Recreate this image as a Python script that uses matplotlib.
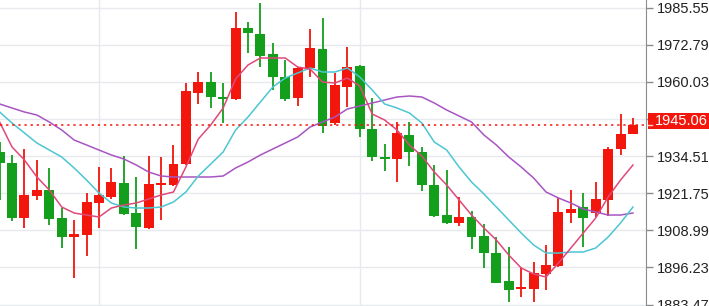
import matplotlib
matplotlib.use('Agg')
import matplotlib.pyplot as plt
import matplotlib.transforms as mtransforms
from matplotlib.patches import Rectangle
import numpy as np

# OHLC (rouge = hausse, vert = baisse)
opens = [1935.89, 1932.11, 1913.20, 1920.76, 1922.83, 1913.20, 1906.67, 1907.36, 1918.35, 1920.42,
         1925.23, 1914.92, 1909.77, 1924.55, 1924.55, 1931.76, 1956.17, 1959.95, 1954.79, 1954.10,
         1978.51, 1976.44, 1969.57, 1961.66, 1954.45, 1964.76, 1971.29, 1945.86, 1958.23, 1965.45,
         1943.80, 1934.17, 1933.48, 1941.73, 1935.89, 1924.55, 1914.23, 1911.48, 1913.55, 1907.02,
         1901.18, 1891.55, 1888.80, 1888.80, 1893.96, 1896.71, 1914.92, 1916.98, 1914.92, 1919.39,
         1936.92, 1942.08]
highs = [1939.30, 1934.86, 1936.92, 1933.14, 1930.39, 1916.64, 1912.50, 1921.80, 1930.73, 1930.39,
         1934.50, 1927.30, 1934.50, 1934.17, 1938.30, 1959.60, 1963.40, 1963.40, 1959.60, 1984.01,
         1980.57, 1987.10, 1973.35, 1967.51, 1965.10, 1978.16, 1981.94, 1963.04, 1971.98, 1965.79,
         1954.45, 1938.64, 1946.20, 1946.20, 1937.61, 1931.40, 1929.70, 1920.42, 1915.61, 1911.14,
         1906.67, 1903.24, 1896.37, 1898.08, 1903.92, 1920.08, 1922.83, 1921.80, 1925.58, 1937.61,
         1948.95, 1947.57]
lows = [1919.39, 1912.20, 1909.77, 1919.39, 1910.80, 1902.90, 1892.58, 1900.10, 1909.77, 1919.73,
        1914.40, 1902.55, 1909.40, 1912.50, 1924.20, 1931.40, 1952.40, 1951.00, 1945.86, 1953.76,
        1969.91, 1965.10, 1957.20, 1953.42, 1951.70, 1961.66, 1942.42, 1945.17, 1951.35, 1941.04,
        1932.79, 1929.36, 1925.58, 1931.07, 1922.48, 1913.55, 1911.30, 1910.46, 1902.55, 1896.02,
        1890.70, 1884.33, 1886.05, 1884.33, 1888.46, 1896.37, 1911.48, 1903.24, 1913.55, 1913.89,
        1934.86, 1942.08]
closes = [1932.11, 1913.20, 1921.11, 1922.83, 1912.86, 1906.67, 1907.70, 1918.70, 1921.11, 1925.58,
          1914.58, 1910.11, 1924.89, 1925.23, 1931.76, 1956.85, 1959.95, 1954.79, 1954.10, 1978.51,
          1976.79, 1968.88, 1961.66, 1954.10, 1964.76, 1971.63, 1944.82, 1958.92, 1965.10, 1943.80,
          1934.17, 1933.48, 1942.42, 1935.89, 1924.55, 1913.89, 1911.48, 1913.55, 1906.67, 1901.18,
          1890.86, 1888.46, 1889.49, 1894.30, 1897.05, 1915.27, 1916.30, 1913.20, 1919.73, 1936.92,
          1942.08, 1945.06]

# Moyennes mobiles
ma5 = [1946.20, 1937.61, 1933.14, 1927.30, 1922.83, 1916.98, 1914.92, 1914.23, 1913.55, 1916.64,
       1917.67, 1918.36, 1919.73, 1921.11, 1922.14, 1930.73, 1940.36, 1945.17, 1951.01, 1960.98,
       1965.79, 1968.20, 1968.20, 1968.20, 1965.10, 1964.41, 1959.95, 1959.60, 1961.32, 1958.57,
       1948.95, 1946.89, 1943.45, 1938.29, 1934.51, 1929.01, 1924.55, 1919.39, 1914.23, 1909.77,
       1905.64, 1900.49, 1896.02, 1893.96, 1892.93, 1897.74, 1902.89, 1908.05, 1913.20, 1920.42,
       1926.26, 1931.42]
ma10 = [1949.64, 1945.85, 1942.42, 1938.98, 1936.57, 1934.17, 1930.39, 1926.26, 1921.80, 1918.36,
        1916.98, 1916.64, 1916.64, 1916.98, 1918.70, 1922.14, 1927.64, 1931.76, 1935.89, 1943.45,
        1947.92, 1953.07, 1958.23, 1961.32, 1963.04, 1964.76, 1963.38, 1963.38, 1964.76, 1961.67,
        1957.20, 1952.39, 1951.01, 1949.29, 1945.85, 1939.32, 1936.57, 1930.73, 1925.58, 1921.45,
        1916.98, 1912.52, 1908.05, 1903.92, 1901.17, 1901.17, 1901.52, 1901.52, 1902.89, 1906.67,
        1911.48, 1916.98]
ma20 = [1952.39, 1951.01, 1949.64, 1948.60, 1946.20, 1943.45, 1940.01, 1938.29, 1936.57, 1934.86,
        1933.48, 1931.42, 1929.01, 1927.64, 1927.30, 1927.30, 1927.30, 1927.30, 1927.64, 1930.39,
        1932.45, 1934.86, 1936.92, 1938.98, 1941.04, 1944.48, 1946.20, 1947.92, 1950.67, 1951.70,
        1952.73, 1953.76, 1954.79, 1955.13, 1954.79, 1952.73, 1950.32, 1948.26, 1946.20, 1941.73,
        1938.29, 1934.17, 1930.73, 1926.95, 1922.14, 1920.08, 1918.36, 1916.30, 1915.27, 1914.23,
        1914.23, 1914.92]

yticks = [1883.47, 1896.23, 1908.99, 1921.75, 1934.51, 1947.27, 1960.03, 1972.79, 1985.55]
last_price = 1945.06
vgrid_idx = [8, 29]

RED = '#f2160c'
GREEN = '#139e1b'

fig = plt.figure(figsize=(7.09, 3.06), dpi=100)
ax = fig.add_axes([0, 0, 646 / 709, 1])

x = np.arange(len(opens))
o = np.array(opens)
c = np.array(closes)
colors = [RED if cc >= oo else GREEN for oo, cc in zip(o, c)]

# Grille
for t in yticks:
    ax.axhline(t, color='#e6eaef', lw=1, zorder=0)
for v in vgrid_idx:
    ax.axvline(v, color='#e6eaef', lw=1, zorder=0)

# Bougies
ax.vlines(x, lows, highs, colors=colors, lw=1.3, zorder=2)
body_h = np.maximum(np.abs(c - o), 0.45)
ax.bar(x, body_h, bottom=np.minimum(o, c), width=0.8, color=colors, lw=0, zorder=3)

# Moyennes mobiles
ax.plot(x, ma20, color='#a855c2', lw=1.1, zorder=4)
ax.plot(x, ma10, color='#4cc6d2', lw=1.1, zorder=4)
ax.plot(x, ma5, color='#e0487a', lw=1.1, zorder=4)

# Dernier prix
ax.axhline(last_price, color=RED, lw=1.1, ls=(0, (1.5, 2.5)), zorder=5)

ax.set_xlim(0.03, 52.05)
ax.set_ylim(1882.96, 1988.13)
ax.set_xticks([])
ax.yaxis.tick_right()
ax.set_yticks(yticks)
ax.set_yticklabels([f'{t:.2f}' for t in yticks], fontfamily='Liberation Sans')
ax.tick_params(axis='y', direction='out', length=5, width=1, pad=3,
               labelsize=10.5, colors='#8c8c8c', labelcolor='#222222')
for s in ['top', 'left', 'bottom']:
    ax.spines[s].set_visible(False)
ax.spines['right'].set_color('#8c8c8c')

# Etiquette du dernier prix
trans = mtransforms.blended_transform_factory(ax.transAxes, ax.transData)
ax.add_patch(Rectangle((1 + 2 / 646, last_price - 1.3), 70 / 646, 5.5, transform=trans,
                       fc=RED, ec='none', clip_on=False, zorder=9))
ax.plot([1 + 2 / 646, 1 + 6 / 646], [last_price, last_price], color='#ffd0cc', lw=1,
        transform=trans, clip_on=False, zorder=10)
ax.text(1 + 9 / 646, last_price + 1.45, f'{last_price:.2f}', transform=trans,
        ha='left', va='center', color='white', fontsize=10.5,
        fontfamily='Liberation Sans', clip_on=False, zorder=11)

fig.savefig('out.png', dpi=100)
